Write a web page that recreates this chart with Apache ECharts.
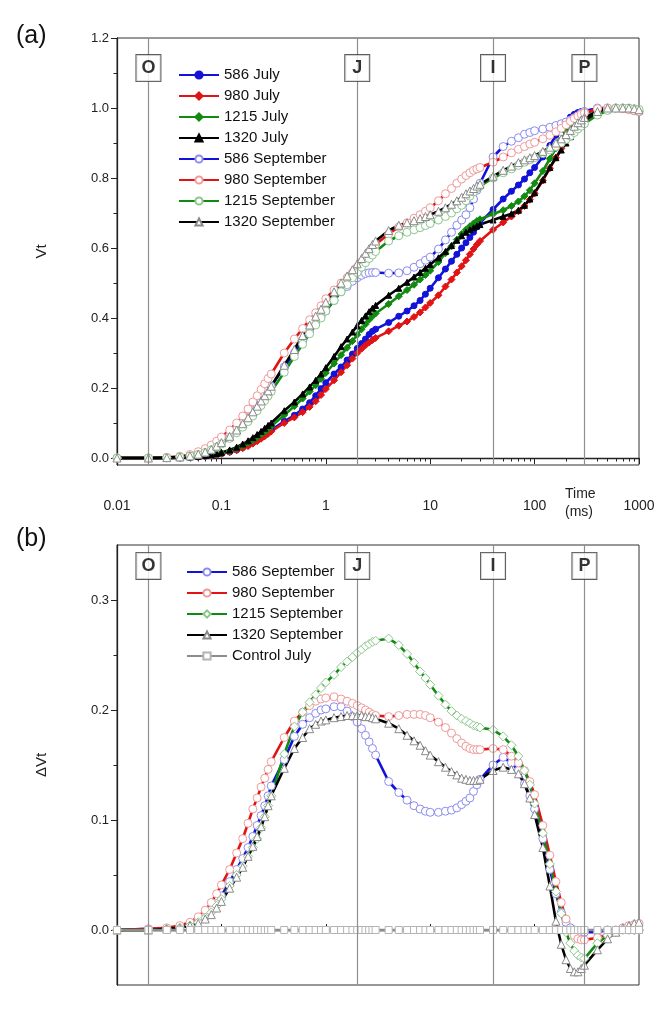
<!DOCTYPE html>
<html><head><meta charset="utf-8">
<script src="https://cdn.jsdelivr.net/npm/echarts@6/dist/echarts.min.js"></script>
<style>html,body{margin:0;padding:0;background:#fff}#c{width:670px;height:1013px}</style>
</head><body><div id="c"></div><script>
// ---------- DATA ----------
const timeMs = [
 0.01,0.02,0.03,0.04,0.05,0.06,0.07,0.08,0.09,0.1,
 0.12,0.14,0.16,0.18,0.2,0.22,0.24,0.26,0.28,0.3,
 0.4,0.5,0.6,0.7,0.8,0.9,
 1,1.2,1.4,1.6,1.8,2,2.2,2.4,2.6,2.8,3,
 4,5,6,7,8,9,
 10,12,14,16,18,20,22,24,26,28,30,
 40,50,60,70,80,90,
 100,120,140,160,180,200,220,240,260,280,300,
 400,500,600,700,800,900,1000];

// Panel (a): Vt
const vt586Jul = [0,0,0,0.001,0.002,0.003,0.005,0.007,0.009,0.012,
 0.017,0.023,0.03,0.037,0.045,0.052,0.059,0.066,0.073,0.08,
 0.105,0.122,0.14,0.158,0.178,0.198,
 0.215,0.24,0.26,0.28,0.297,0.313,0.327,0.34,0.353,0.362,0.368,
 0.387,0.405,0.42,0.435,0.45,0.468,
 0.485,0.515,0.54,0.562,0.582,0.6,0.615,0.63,0.645,0.66,0.672,
 0.71,0.74,0.762,0.78,0.797,0.815,
 0.83,0.86,0.893,0.922,0.945,0.962,0.974,0.982,0.987,0.99,0.992,
 0.998,1.0,1.0,0.998,0.995,0.99,0.987];
const vt980Jul = [0,0,0,0.001,0.002,0.003,0.005,0.007,0.009,0.012,
 0.017,0.022,0.028,0.034,0.041,0.048,0.055,0.062,0.069,0.076,
 0.1,0.116,0.131,0.146,0.162,0.18,
 0.197,0.222,0.245,0.265,0.284,0.3,0.312,0.322,0.33,0.337,0.343,
 0.362,0.378,0.39,0.403,0.416,0.43,
 0.443,0.465,0.49,0.51,0.53,0.548,0.565,0.582,0.597,0.61,0.62,
 0.652,0.673,0.69,0.705,0.72,0.738,
 0.756,0.793,0.828,0.858,0.884,0.905,0.924,0.94,0.953,0.964,0.972,
 0.99,0.998,1.0,1.0,0.998,0.995,0.992];
const vt1215Jul = [0,0,0,0.001,0.002,0.004,0.006,0.008,0.011,0.014,
 0.02,0.027,0.035,0.043,0.051,0.059,0.067,0.075,0.083,0.091,
 0.123,0.148,0.17,0.19,0.208,0.226,
 0.243,0.27,0.294,0.315,0.334,0.352,0.368,0.382,0.395,0.405,0.413,
 0.44,0.462,0.48,0.495,0.51,0.523,
 0.535,0.56,0.585,0.605,0.624,0.64,0.652,0.662,0.67,0.677,0.682,
 0.697,0.708,0.72,0.733,0.748,0.765,
 0.785,0.82,0.855,0.885,0.91,0.93,0.948,0.962,0.973,0.98,0.985,
 0.995,1.0,1.0,0.998,0.996,0.993,0.99];
const vt1320Jul = [0,0,0,0.001,0.003,0.005,0.007,0.01,0.013,0.016,
 0.023,0.031,0.04,0.049,0.058,0.067,0.076,0.085,0.093,0.1,
 0.135,0.16,0.183,0.203,0.222,0.24,
 0.258,0.29,0.318,0.34,0.36,0.378,0.393,0.406,0.418,0.428,0.436,
 0.465,0.485,0.502,0.517,0.53,0.542,
 0.553,0.572,0.59,0.607,0.622,0.635,0.645,0.652,0.658,0.663,0.667,
 0.68,0.69,0.698,0.708,0.722,0.74,
 0.758,0.795,0.83,0.858,0.88,0.9,0.918,0.933,0.945,0.955,0.963,
 0.985,0.995,1.0,1.0,0.998,0.995,0.99];
const vt586Sep = [0,0,0.001,0.003,0.007,0.012,0.02,0.028,0.037,0.047,
 0.065,0.083,0.1,0.118,0.135,0.15,0.165,0.18,0.193,0.205,
 0.26,0.3,0.335,0.36,0.385,0.405,
 0.42,0.45,0.475,0.49,0.505,0.515,0.522,0.527,0.529,0.53,0.53,
 0.528,0.529,0.535,0.545,0.555,0.565,
 0.574,0.597,0.623,0.645,0.665,0.68,0.695,0.715,0.74,0.765,0.785,
 0.86,0.89,0.905,0.915,0.925,0.93,
 0.935,0.94,0.945,0.95,0.955,0.96,0.966,0.972,0.978,0.985,0.99,
 1.0,1.0,1.0,1.0,0.998,0.995,0.99];
const vt980Sep = [0,0,0.002,0.005,0.01,0.018,0.027,0.037,0.048,0.06,
 0.08,0.1,0.12,0.14,0.16,0.178,0.196,0.212,0.227,0.24,
 0.3,0.34,0.37,0.395,0.415,0.435,
 0.455,0.48,0.5,0.515,0.53,0.545,0.56,0.575,0.59,0.6,0.61,
 0.64,0.66,0.672,0.685,0.695,0.705,
 0.715,0.735,0.755,0.77,0.785,0.797,0.807,0.815,0.822,0.826,0.83,
 0.845,0.86,0.872,0.882,0.89,0.897,
 0.902,0.912,0.922,0.932,0.942,0.952,0.962,0.97,0.977,0.982,0.986,
 0.998,1.0,1.0,0.998,0.995,0.992,0.99];
const vt1215Sep = [0,0,0.001,0.003,0.006,0.01,0.016,0.023,0.031,0.04,
 0.056,0.072,0.088,0.104,0.12,0.135,0.15,0.164,0.177,0.19,
 0.245,0.29,0.325,0.355,0.38,0.4,
 0.42,0.45,0.475,0.495,0.515,0.53,0.545,0.558,0.57,0.58,0.59,
 0.62,0.635,0.645,0.652,0.658,0.664,
 0.67,0.68,0.69,0.7,0.712,0.722,0.735,0.748,0.76,0.77,0.777,
 0.8,0.815,0.826,0.836,0.845,0.852,
 0.858,0.87,0.88,0.89,0.9,0.91,0.92,0.93,0.94,0.948,0.955,
 0.98,0.993,1.0,1.0,1.0,0.998,0.996];
const vt1320Sep = [0,0,0.001,0.003,0.006,0.011,0.017,0.025,0.034,0.044,
 0.062,0.08,0.098,0.115,0.132,0.148,0.163,0.178,0.192,0.205,
 0.265,0.31,0.35,0.38,0.405,0.425,
 0.445,0.475,0.5,0.52,0.538,0.555,0.57,0.585,0.598,0.61,0.62,
 0.65,0.665,0.672,0.678,0.684,0.69,
 0.695,0.705,0.715,0.725,0.735,0.745,0.755,0.763,0.77,0.777,0.782,
 0.805,0.822,0.834,0.844,0.852,0.858,
 0.864,0.876,0.888,0.9,0.912,0.924,0.936,0.948,0.958,0.966,0.973,
 0.99,1.0,1.0,1.0,1.0,0.998,0.995];

// Panel (b): delta Vt
const dv586Sep = [0,0.001,0.001,0.003,0.005,0.008,0.012,0.018,0.024,0.031,
 0.044,0.055,0.065,0.075,0.085,0.095,0.104,0.113,0.122,0.131,
 0.155,0.176,0.187,0.193,0.197,0.2,
 0.201,0.203,0.203,0.199,0.194,0.189,0.183,0.177,0.171,0.165,0.159,
 0.135,0.125,0.118,0.113,0.11,0.108,
 0.107,0.107,0.108,0.109,0.111,0.114,0.117,0.12,0.126,0.132,0.137,
 0.15,0.157,0.152,0.145,0.133,0.122,
 0.11,0.083,0.055,0.033,0.016,0.007,0.002,0.0,-0.001,-0.002,-0.002,
 -0.002,0.0,0.0,0.001,0.001,0.0,0.0];
const dv980Sep = [0,0.001,0.002,0.004,0.007,0.012,0.018,0.025,0.033,0.041,
 0.055,0.07,0.083,0.097,0.11,0.12,0.13,0.138,0.146,0.153,
 0.175,0.19,0.198,0.204,0.208,0.21,
 0.211,0.212,0.21,0.208,0.206,0.204,0.202,0.2,0.198,0.196,0.195,
 0.194,0.195,0.196,0.196,0.196,0.195,
 0.193,0.189,0.184,0.179,0.174,0.17,0.167,0.165,0.164,0.164,0.164,
 0.165,0.164,0.158,0.152,0.145,0.135,
 0.123,0.095,0.068,0.044,0.025,0.01,0.0,-0.005,-0.008,-0.009,-0.009,
 -0.007,-0.004,-0.001,0.002,0.004,0.005,0.006];
const dv1215Sep = [0,0,0.001,0.002,0.004,0.007,0.011,0.016,0.022,0.028,
 0.04,0.05,0.058,0.067,0.075,0.083,0.093,0.103,0.113,0.122,
 0.16,0.185,0.198,0.207,0.214,0.22,
 0.225,0.232,0.239,0.244,0.248,0.252,0.255,0.258,0.26,0.262,0.263,
 0.265,0.259,0.251,0.243,0.235,0.229,
 0.223,0.213,0.205,0.199,0.195,0.192,0.19,0.188,0.186,0.185,0.184,
 0.182,0.176,0.168,0.158,0.145,0.132,
 0.115,0.088,0.06,0.035,0.015,-0.002,-0.012,-0.019,-0.023,-0.025,-0.026,
 -0.012,-0.005,-0.002,0,0,0,0];
const dv1320Sep = [0,0,0.001,0.002,0.004,0.006,0.01,0.014,0.02,0.026,
 0.038,0.048,0.057,0.067,0.076,0.085,0.094,0.103,0.113,0.122,
 0.147,0.165,0.175,0.183,0.187,0.19,
 0.191,0.193,0.194,0.195,0.195,0.195,0.195,0.194,0.194,0.193,0.192,
 0.188,0.183,0.177,0.172,0.168,0.163,
 0.159,0.153,0.148,0.144,0.141,0.138,0.137,0.136,0.136,0.136,0.137,
 0.145,0.148,0.146,0.142,0.133,0.12,
 0.105,0.075,0.04,0.008,-0.013,-0.027,-0.035,-0.038,-0.038,-0.035,-0.032,
 -0.018,-0.008,-0.002,0.002,0.004,0.006,0.007];
const dvControlJul = [0,0,0,0,0,0,0,0,0,0,
 0,0,0,0,0,0,0,0,0,0,
 0,0,0,0,0,0,
 0,0,0,0,0,0,0,0,0,0,0,
 0,0,0,0,0,0,
 0,0,0,0,0,0,0,0,0,0,0,
 0,0,0,0,0,0,
 0,0,0,0,0,0,0,0,0,0,0,
 0,0,0,0,0,0,0];

// Phase markers and ticks
const phaseTimes = [0.02, 2, 40, 300];
const phaseNames = ['O', 'J', 'I', 'P'];
const xMajorTicks = [0.01, 0.1, 1, 10, 100, 1000];
const xMinorTicks = [0.02,0.03,0.04,0.05,0.06,0.07,0.08,0.09,
 0.2,0.3,0.4,0.5,0.6,0.7,0.8,0.9, 2,3,4,5,6,7,8,9,
 20,30,40,50,60,70,80,90, 200,300,400,500,600,700,800,900];
const yMajorA = [0, 0.2, 0.4, 0.6, 0.8, 1.0, 1.2];
const yMinorA = [0.1, 0.3, 0.5, 0.7, 0.9, 1.1];
const yMajorB = [0, 0.1, 0.2, 0.3];
const yMinorB = [0.05, 0.15, 0.25];

// ---------- CHART ----------
const FONT = 'Liberation Sans, Arial, sans-serif';
const C = {blue:'#1212d8', red:'#e01414', green:'#128a12', black:'#000000', gray:'#8c8c8c'};
const P = {blue:'#8c8cf0', red:'#f09a9a', green:'#8cc88c', black:'#8a8a8a', gray:'#b4b4b4'};

function pairs(arr){ return timeMs.map((t,i)=>[t, arr[i]]); }
function lineSeries(name, arr, grid, color, symbol, fill, border, size){
  return {
    type:'line', name, data: pairs(arr), xAxisIndex: grid*2, yAxisIndex: grid*2,
    symbol, symbolSize: size, showAllSymbol: true, smooth: false,
    lineStyle:{color, width:2.6}, itemStyle:{color: fill, borderColor: border, borderWidth: 1},
    emphasis:{disabled:true}, animation:false, z: 3
  };
}
function phaseSeries(grid, yv){
  return {
    type:'scatter', name:'phase'+grid, xAxisIndex: grid*2, yAxisIndex: grid*2,
    data: phaseTimes.map((t,i)=>[t, yv, phaseNames[i]]),
    symbolSize: 1, itemStyle:{color:'rgba(0,0,0,0)'}, silent:true, animation:false, z: 5,
    label:{show:true, position:'inside', formatter: p=>p.value[2], fontFamily: FONT,
      fontSize:18, fontWeight:'bold', color:'#000', backgroundColor:'#fff',
      borderColor:'#333', borderWidth:1, padding:[4,5,3,5], width:14, align:'center', lineHeight:19},
    markLine:{silent:true, symbol:['none','none'], animation:false, label:{show:false},
      lineStyle:{color:'#8f8f8f', width:1.2, type:'solid'},
      data: phaseTimes.map(t=>({xAxis:t}))}
  };
}
const numFmt = v => String(+Number(v).toPrecision(6));
function xAxes(grid, pos, showLabels){
  return [
    {gridIndex:grid, type:'log', logBase:10, min:0.01, max:1000, position:pos,
     axisLine:{show:true, lineStyle:{color:'#222', width:1.3}},
     axisTick:{show:true, length:6, customValues: xMajorTicks, lineStyle:{color:'#222'}},
     axisLabel:{show:showLabels, customValues: xMajorTicks, margin:34, fontSize:14, color:'#222', fontFamily:FONT, formatter: numFmt},
     splitLine:{show:false}},
    {gridIndex:grid, type:'log', logBase:10, min:0.01, max:1000, position:pos,
     axisLine:{show:false}, axisLabel:{show:false}, splitLine:{show:false},
     axisTick:{show:true, length:3.5, customValues: xMinorTicks, lineStyle:{color:'#222'}}}
  ];
}
function yAxes(grid, min, max, major, minor, name){
  return [
    {gridIndex:grid, type:'value', min, max, position:'left', name, nameLocation:'middle', nameGap:68,
     nameTextStyle:{fontSize:15, color:'#222', fontFamily:FONT},
     axisLine:{show:true, lineStyle:{color:'#222', width:1.3}},
     axisTick:{show:true, length:6, customValues: major, lineStyle:{color:'#222'}},
     axisLabel:{customValues: major, formatter: v=>Number(v).toFixed(1), fontSize:13, color:'#222', fontFamily:FONT, margin:8},
     splitLine:{show:false}},
    {gridIndex:grid, type:'value', min, max, position:'left', offset:0,
     axisLine:{show:false}, axisLabel:{show:false}, splitLine:{show:false},
     axisTick:{show:true, length:3.5, customValues: minor, lineStyle:{color:'#222'}}}
  ];
}

const series = [
  lineSeries('586 July', vt586Jul, 0, C.blue, 'circle', C.blue, C.blue, 6),
  lineSeries('980 July', vt980Jul, 0, C.red, 'diamond', C.red, C.red, 7),
  lineSeries('1215 July', vt1215Jul, 0, C.green, 'diamond', C.green, C.green, 7),
  lineSeries('1320 July', vt1320Jul, 0, C.black, 'triangle', C.black, C.black, 6),
  lineSeries('586 September', vt586Sep, 0, C.blue, 'circle', '#fff', P.blue, 8),
  lineSeries('980 September', vt980Sep, 0, C.red, 'circle', '#fff', P.red, 8),
  lineSeries('1215 September', vt1215Sep, 0, C.green, 'circle', '#fff', P.green, 8),
  lineSeries('1320 September', vt1320Sep, 0, C.black, 'triangle', '#fff', P.black, 8),
  lineSeries('b:586 September', dv586Sep, 1, C.blue, 'circle', '#fff', P.blue, 8),
  lineSeries('b:980 September', dv980Sep, 1, C.red, 'circle', '#fff', P.red, 8),
  lineSeries('b:1215 September', dv1215Sep, 1, C.green, 'diamond', '#fff', P.green, 9),
  lineSeries('b:1320 September', dv1320Sep, 1, C.black, 'triangle', '#fff', P.black, 8),
  lineSeries('b:Control July', dvControlJul, 1, C.gray, 'rect', '#fff', P.gray, 7),
  phaseSeries(0, 1.114),
  phaseSeries(1, 0.331)
];

const legendCommon = {orient:'vertical', itemWidth:40, itemHeight:9, itemGap:5, selectedMode:false,
  textStyle:{fontSize:15, color:'#111', fontFamily:FONT, lineHeight:16}};

const option = {
  animation:false,
  backgroundColor:'#fff',
  grid:[
    {left:117, right:31, top:38, bottom:548, show:true, borderColor:'#333', borderWidth:1, backgroundColor:'transparent'},
    {left:117, right:31, top:545, bottom:28, show:true, borderColor:'#333', borderWidth:1, backgroundColor:'transparent'}
  ],
  xAxis: [...xAxes(0,'bottom',true), ...xAxes(1,'top',false)],
  yAxis: [...yAxes(0,-0.02,1.2,yMajorA,yMinorA,'Vt'), ...yAxes(1,-0.05,0.35,yMajorB,yMinorB,'ΔVt')],
  legend:[
    Object.assign({}, legendCommon, {left:173, top:62,
      data:['586 July','980 July','1215 July','1320 July','586 September','980 September','1215 September','1320 September']}),
    Object.assign({}, legendCommon, {left:181, top:559, formatter: n=>n.replace(/^b:/,''),
      data:['b:586 September','b:980 September','b:1215 September','b:1320 September','b:Control July']})
  ],
  graphic:[
    {type:'text', left:16, top:24, style:{text:'(a)', fontSize:25, fill:'#111', fontFamily:FONT}},
    {type:'text', left:16, top:527, style:{text:'(b)', fontSize:25, fill:'#111', fontFamily:FONT}},
    {type:'text', left:565, top:485, style:{text:'Time\n(ms)', fontSize:14, lineHeight:18, align:'center', fill:'#222', fontFamily:FONT}}
  ],
  series
};
const chart = echarts.init(document.getElementById('c'), null, {renderer:'canvas'});
chart.setOption(option);
</script></body></html>
